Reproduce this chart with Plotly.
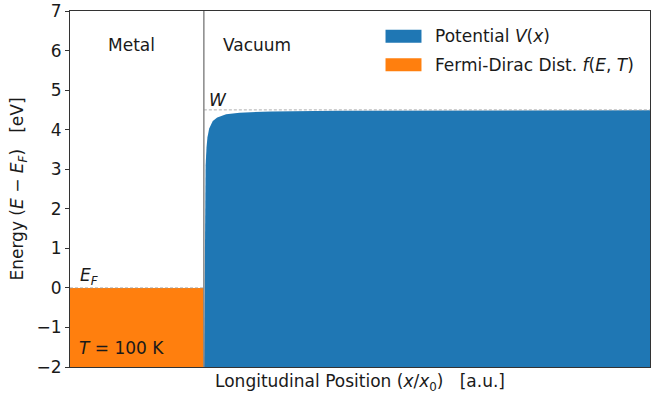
import plotly.graph_objects as go

# Energy scale (eV, relative to the Fermi level)
E_MIN, E_MAX = -2, 7
WORK_FUNCTION = 4.5      # W
FERMI_LEVEL = 0.0        # E_F

# Longitudinal extent of the two regions (a.u.)
x_metal = [-0.3, 0.0]
f_metal_top = [0.0, 0.0]  # occupied states reach E_F at T = 100 K

# Surface potential barrier sampled across the vacuum region
x_vac = [0.0004, 0.001, 0.0015, 0.002, 0.003, 0.004, 0.006, 0.008, 0.012,
         0.02, 0.03, 0.05, 0.08, 0.15, 0.3, 0.6, 1.0]
v_vac = [-2.0, -0.9, 0.8, 1.7, 2.6, 3.1, 3.55, 3.8, 4.03,
         4.22, 4.31, 4.39, 4.43, 4.46, 4.48, 4.49, 4.49]

y_ticks = list(range(E_MIN, E_MAX + 1))
y_ticktext = [str(v).replace("-", "\u2212") for v in y_ticks]

BLUE = "#1f77b4"
ORANGE = "#ff7f0e"
SPINE = "#333333"
FONT = "DejaVu Sans"
FS = 17

fig = go.Figure()

# Fermi-Dirac occupation in the metal (filled from the bottom of the axis)
fig.add_trace(go.Scatter(x=x_metal, y=[E_MIN] * len(x_metal), mode="lines",
                         line=dict(width=0), hoverinfo="skip", showlegend=False))
fig.add_trace(go.Scatter(x=x_metal, y=f_metal_top, mode="lines", fill="tonexty",
                         fillcolor=ORANGE, line=dict(width=0), showlegend=False))

# Potential V(x) in vacuum
fig.add_trace(go.Scatter(x=x_vac, y=[E_MIN] * len(x_vac), mode="lines",
                         line=dict(width=0), hoverinfo="skip", showlegend=False))
fig.add_trace(go.Scatter(x=x_vac, y=v_vac, mode="lines", fill="tonexty",
                         fillcolor=BLUE, line=dict(width=0, color=BLUE), showlegend=False))

# Reference levels and the metal/vacuum interface
fig.add_shape(type="line", x0=x_metal[0], x1=x_metal[1], y0=FERMI_LEVEL, y1=FERMI_LEVEL,
              line=dict(color="#999999", width=0.8, dash="3px,2px"))
fig.add_shape(type="line", x0=0, x1=x_vac[-1], y0=WORK_FUNCTION, y1=WORK_FUNCTION,
              line=dict(color="#999999", width=0.8, dash="3px,2px"))
fig.add_shape(type="line", x0=0, x1=0, y0=E_MIN, y1=E_MAX,
              line=dict(color="#888888", width=1.5))

txt = dict(family=FONT, size=FS, color="#1a1a1a")
fig.add_annotation(x=-0.163, y=6.14, text="Metal", showarrow=False, font=txt)
fig.add_annotation(x=0.12, y=6.14, text="Vacuum", showarrow=False, font=txt)
fig.add_annotation(x=0.006, y=WORK_FUNCTION, text="<i>W</i>", showarrow=False,
                   xanchor="left", yanchor="bottom", yshift=-2, font=txt)
fig.add_annotation(x=-0.283, y=FERMI_LEVEL, text="<i>E</i><sub><i>F</i></sub>", showarrow=False,
                   xanchor="left", yanchor="bottom", yshift=-2, font=txt)
fig.add_annotation(x=-0.285, y=-1.53, text="<i>T</i> = 100 K", showarrow=False,
                   xanchor="left", yanchor="middle", font=txt)

# Legend entries
legend_items = [("Potential <i>V</i>(<i>x</i>)", BLUE, 0.929),
                ("Fermi-Dirac Dist. <i>f</i>(<i>E</i>, <i>T</i>)", ORANGE, 0.849)]
for label, color, yp in legend_items:
    fig.add_shape(type="rect", xref="paper", yref="paper",
                  x0=0.544, x1=0.606, y0=yp - 0.018, y1=yp + 0.018,
                  fillcolor=color, line=dict(width=0))
    fig.add_annotation(xref="paper", yref="paper", x=0.626, y=yp, text=label,
                       showarrow=False, xanchor="left", yanchor="middle", font=txt)

fig.update_layout(
    width=652, height=400,
    margin=dict(l=70, r=1, t=9, b=33),
    plot_bgcolor="white", paper_bgcolor="white",
    font=dict(family=FONT, size=FS, color="#1a1a1a"),
    showlegend=False,
    xaxis=dict(range=[x_metal[0], x_vac[-1]], showticklabels=False, ticks="",
               showgrid=False, zeroline=False, showline=True, mirror=True,
               linecolor=SPINE, linewidth=1,
               title=dict(text="Longitudinal Position (<i>x</i>/<i>x</i><sub>0</sub>)   [a.u.]",
                          standoff=8, font=dict(size=FS))),
    yaxis=dict(range=[E_MIN - 1e-6, E_MAX + 1e-6], tickmode="array",
               tickvals=y_ticks, ticktext=y_ticktext, ticklabeloverflow="allow",
               ticks="outside", ticklen=4, tickcolor=SPINE, showgrid=False,
               zeroline=False, showline=True, mirror=True, linecolor=SPINE, linewidth=1,
               tickfont=dict(size=FS),
               title=dict(text="Energy (<i>E</i> \u2212 <i>E</i><sub><i>F</i></sub>)   [eV]",
                          standoff=8, font=dict(size=FS))),
)

fig.write_html("out.html")
